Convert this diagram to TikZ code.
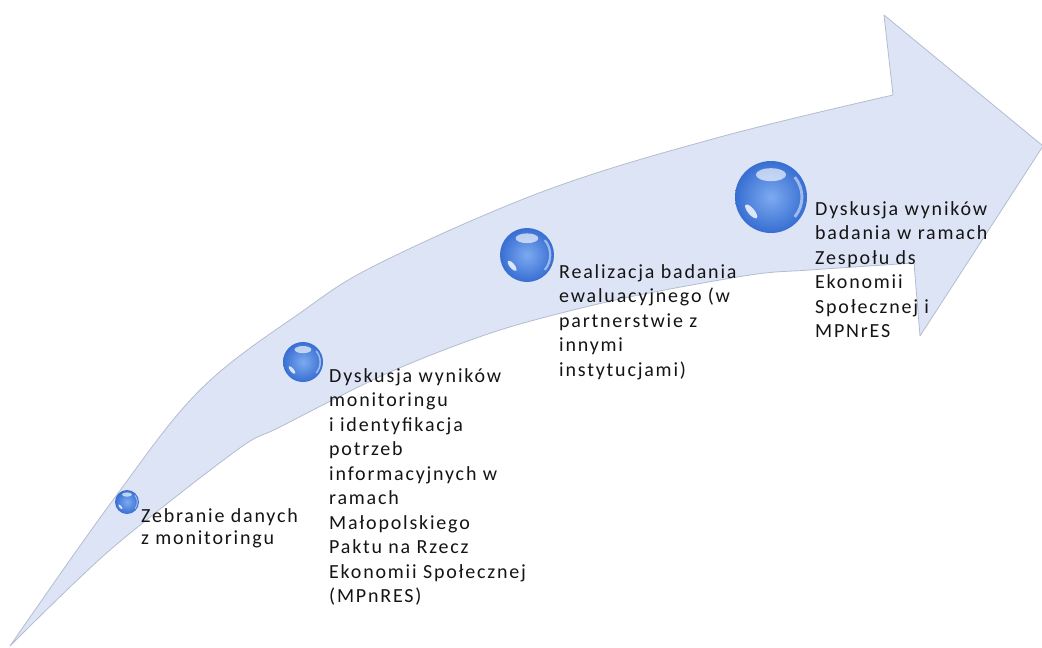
\documentclass[tikz,border=0pt]{standalone}
\usepackage{fontspec}
\setmainfont{Carlito}
\usetikzlibrary{calc}
\definecolor{arrowfill}{RGB}{221,228,245}
\definecolor{arrowedge}{RGB}{180,188,208}
\definecolor{orbin}{RGB}{125,170,240}
\definecolor{orbout}{RGB}{55,110,210}
\definecolor{txt}{RGB}{20,20,20}
\tikzset{
  arrowshape/.style={fill=arrowfill, draw=arrowedge, line width=0.8pt, line join=round},
  orb/.style={circle, inner sep=0pt, shading=radial, inner color=orbin, outer color=orbout},
  steptext/.style={anchor=base west, align=left, inner sep=0pt, text=txt,
    font=\fontsize{20}{24.5}\selectfont\addfontfeatures{LetterSpace=9}},
}
\begin{document}
\begin{tikzpicture}[x=1pt,y=-1pt]
\useasboundingbox (0,0) rectangle (1042,648);
% arrow
\path[arrowshape] plot[smooth, tension=0.6] coordinates {(10,646) (113,500) (200,390) (300,313) (380,263) (547,190) (720,137) (893,95)}
  -- (884,15) -- (1043,146) -- (920,336) -- (914,263)
  -- plot[smooth, tension=0.5] coordinates {(914,263) (810,270) (750,275) (620,299) (500,330) (390,372) (280,427) (237,450) (110,550) (10,646)} -- cycle;
% orbs
\foreach \x/\y/\r/\n in {127/502/12/s1, 303/362/20/s2, 527/255/27/s3, 771/197/36/s4}{
  \node[orb, minimum size=2*\r] (\n) at (\x,\y) {};
  \fill[white, opacity=0.65] (\x,\y-0.62*\r) ellipse [x radius=0.42*\r, y radius=0.18*\r];
  \fill[white, opacity=0.8, rotate around={-50:(\x-0.55*\r,\y+0.4*\r)}] (\x-0.55*\r,\y+0.4*\r) ellipse [x radius=0.24*\r, y radius=0.09*\r];
  \draw[white, opacity=0.5, line width=0.08*\r] (\x,\y) ++(-40:0.86*\r) arc[start angle=-40, end angle=40, radius=0.86*\r];
}
% texts (anchored at the baseline of the last line)
\node[steptext, font=\fontsize{20}{22.3}\selectfont\addfontfeatures{LetterSpace=9}] (t1) at (141,544.3) {Zebranie danych\\z monitoringu};
\node[steptext] (t2) at (329,602.5) {Dyskusja wyników\\monitoringu\\i identyfikacja\\potrzeb\\informacyjnych w\\ramach\\Małopolskiego\\Paktu na Rzecz\\Ekonomii Społecznej\\(MPnRES)};
\node[steptext] (t3) at (559,376) {Realizacja badania\\ewaluacyjnego (w\\partnerstwie z\\innymi\\instytucjami)};
\node[steptext] (t4) at (815,337.5) {Dyskusja wyników\\badania w ramach\\Zespołu ds\\Ekonomii\\Społecznej i\\MPNrES};
\end{tikzpicture}
\end{document}
